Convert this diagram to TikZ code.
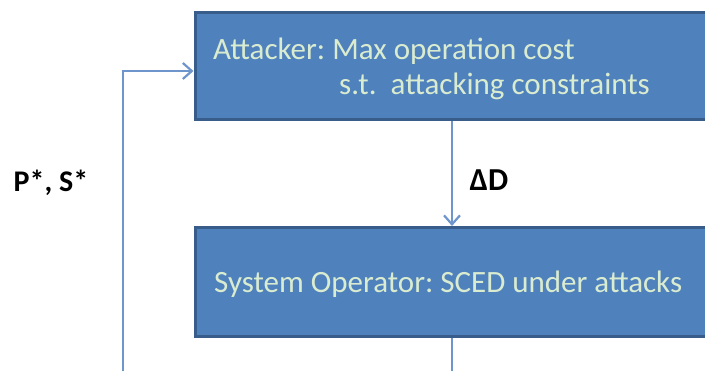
\documentclass[tikz,border=0pt]{standalone}
\usepackage{fontspec}
\setmainfont{Carlito}
\usetikzlibrary{arrows.meta}
\definecolor{boxfill}{RGB}{79,129,189}
\definecolor{boxline}{RGB}{56,93,138}
\definecolor{boxtext}{RGB}{218,236,208}
\definecolor{linkc}{RGB}{110,150,205}
\frenchspacing
\begin{document}
\begin{tikzpicture}[x=1pt,y=1pt,
  blk/.style={draw=boxline,line width=3pt,fill=boxfill,minimum width=525pt,inner sep=0pt},
  btxt/.style={text=boxtext,font=\fontsize{31}{34}\selectfont,inner sep=0pt,anchor=base west},
  lbl/.style={font=\bfseries\fontsize{30}{32}\selectfont,inner sep=0pt},
  link/.style={draw=linkc,line width=2.2pt},
  tip/.style={-{Straight Barb[length=9pt,width=16pt,line width=2.2pt]}}]
\useasboundingbox (0,0) rectangle (705,371);
\node[blk,minimum height=107pt] (att) at (457.5,304.5) {};
\node[blk,minimum height=109pt] (sys) at (457.5,89) {};
\node[btxt] (t1) at (213,311) {Attacker: Max operation cost};
\node[btxt] (t2) at (339,276) {s.t.\ \ attacking constraints};
\node[btxt] (t3) at (214,78) {System Operator: SCED under attacks};
\node[lbl,font=\bfseries\fontsize{32}{34}\selectfont] (dd) at (489,191) {ΔD};
\node[lbl] (ps) at (51,188) {P*, S*};
\coordinate (bl) at (123,-5);
\coordinate (tl) at (123,300);
\coordinate (sb) at (452,-5);
\draw[link,tip] (bl) -- (tl) -- (att.west |- tl);
\draw[link,tip] (att.south -| 452,0) -- (sys.north -| 452,0);
\draw[link] (sys.south -| 452,0) -- (sb);
\end{tikzpicture}
\end{document}
